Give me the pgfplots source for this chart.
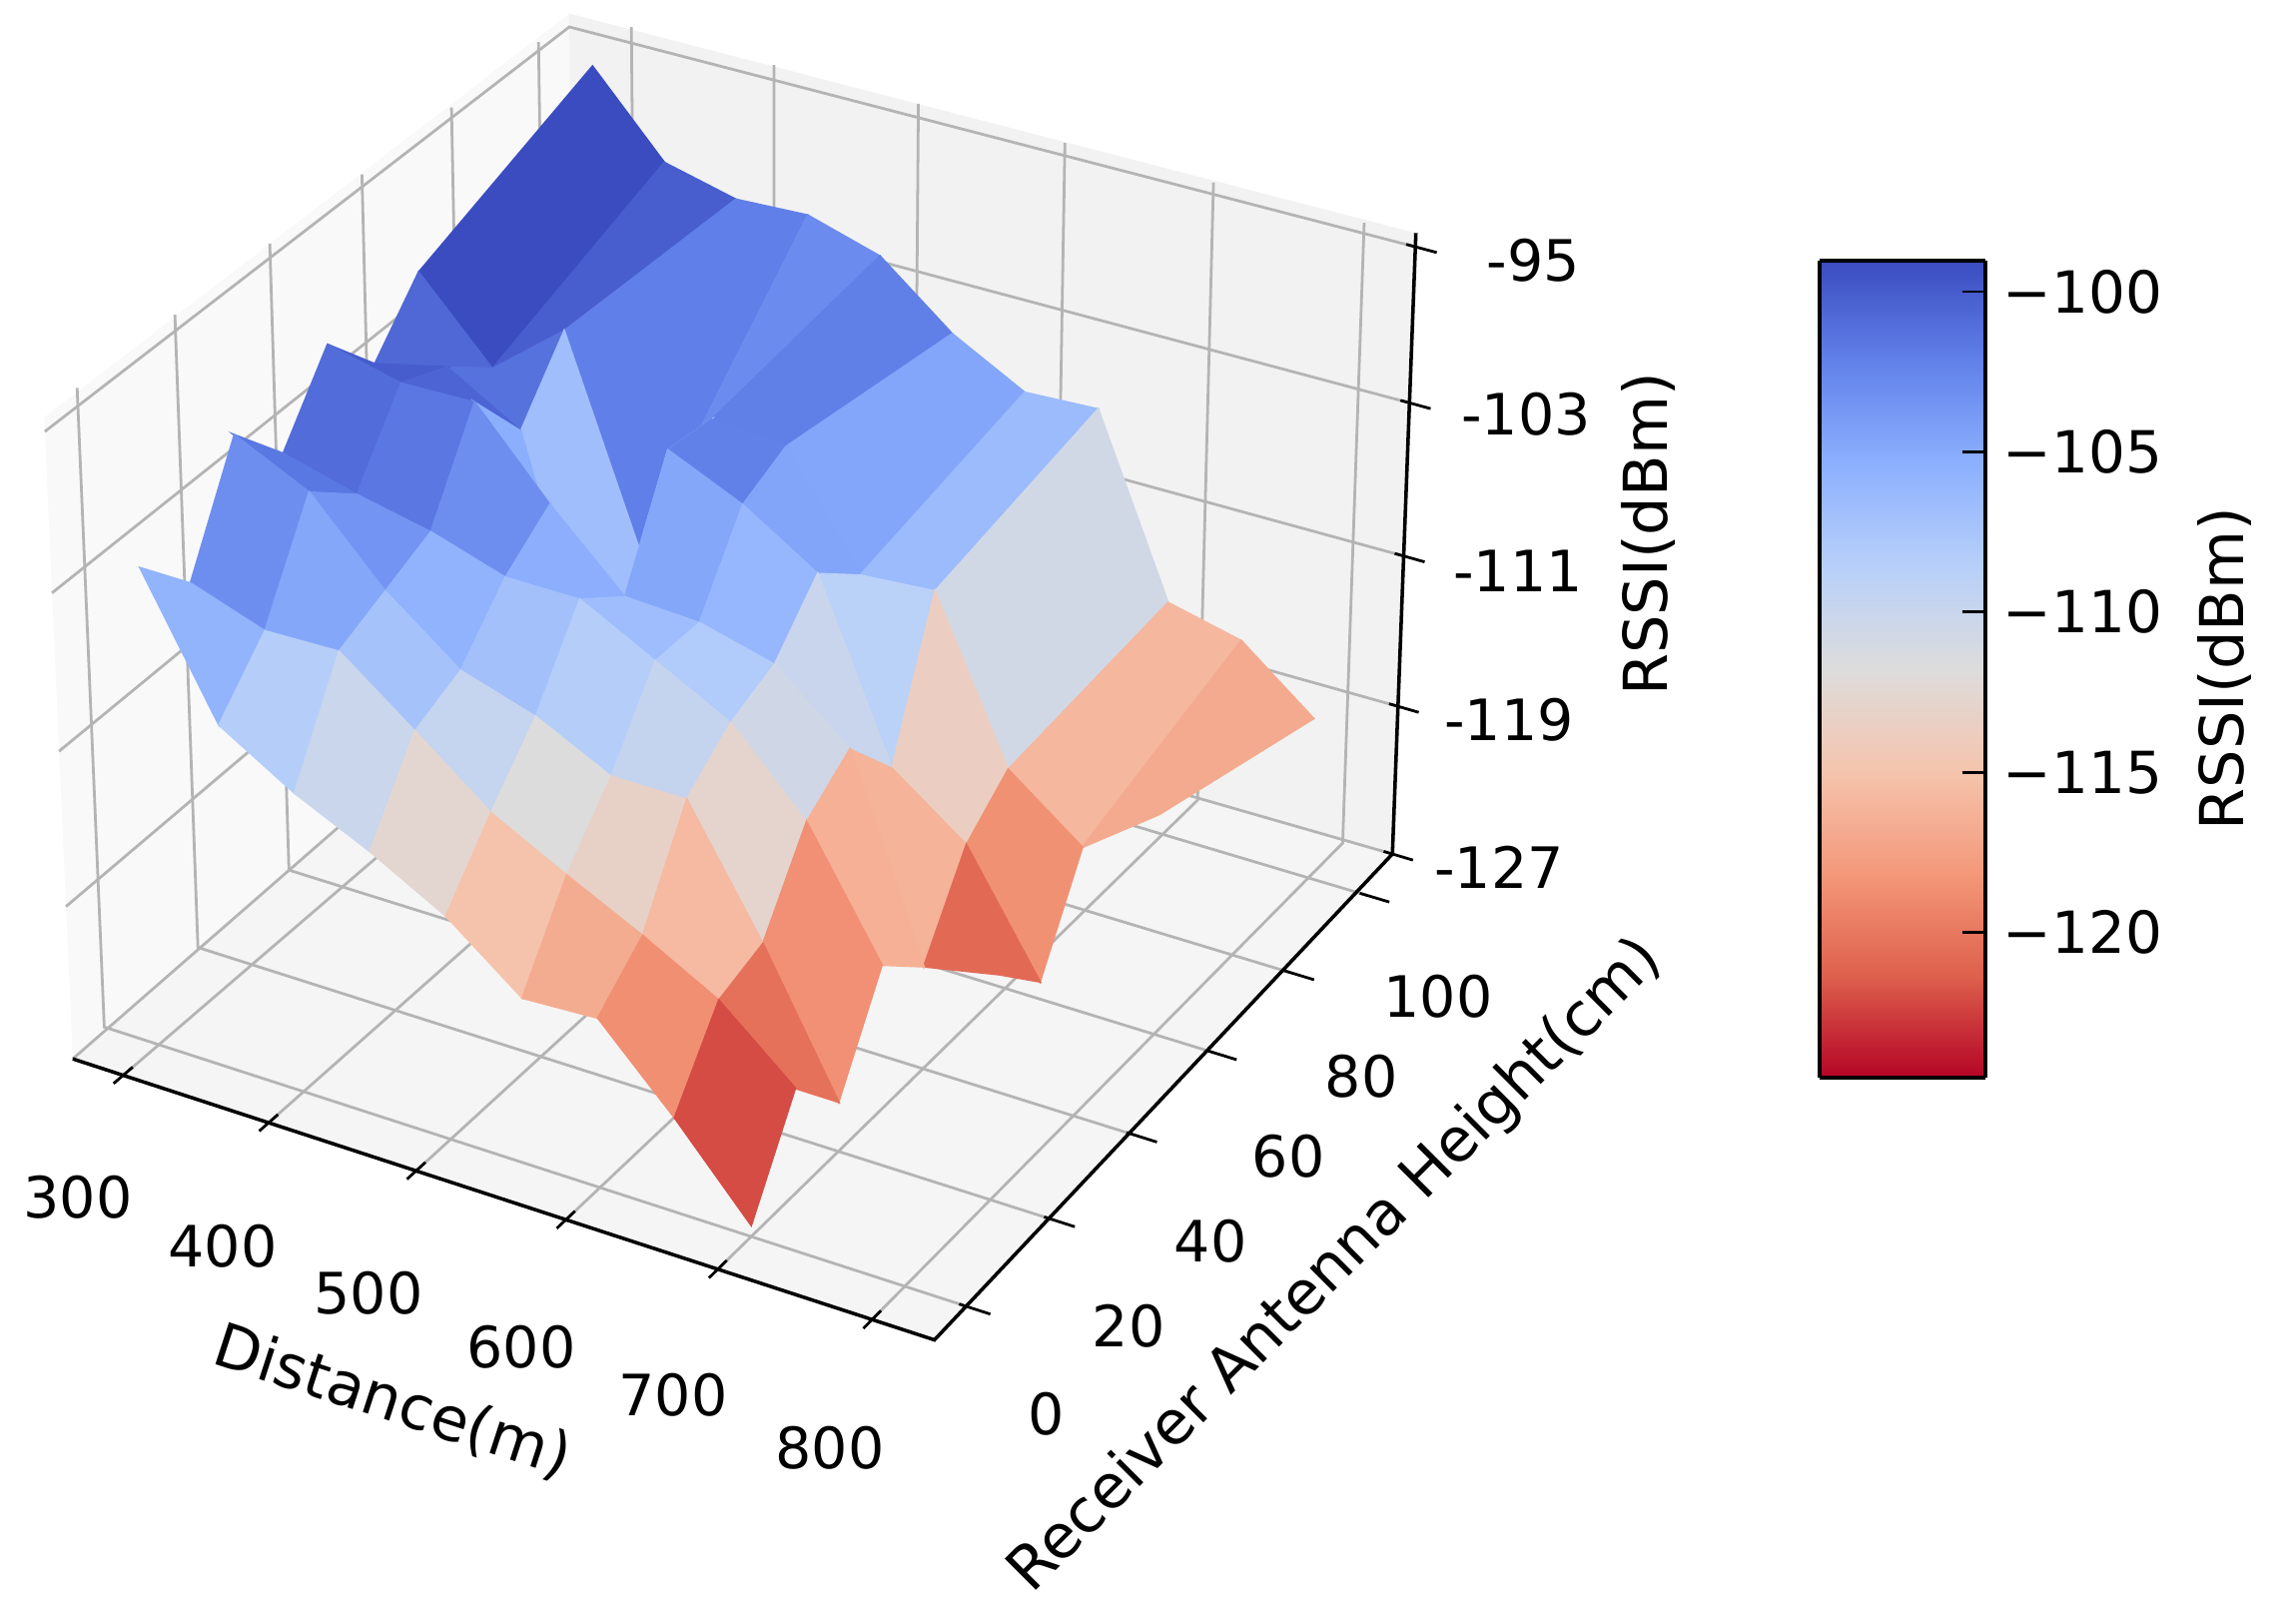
\documentclass[border=0pt]{standalone}
\usepackage{fontspec}
\setmainfont{DejaVu Sans}
\usepackage{pgfplots}
\usepackage{pgfplotstable}
\pgfplotsset{compat=1.18}

\definecolor{paneL}{HTML}{F9F9F9}
\definecolor{paneR}{HTML}{F2F2F2}
\definecolor{paneF}{HTML}{F5F5F5}
\definecolor{gridc}{HTML}{B4B4B4}

\pgfplotsset{
  % reversed coolwarm between -124.53 and -99.03, flat outside; positions are rssi+127
  colormap={cwr}{rgb255(0cm)=(180,4,38) rgb255(2.47cm)=(180,4,38) rgb255(5.6575cm)=(222,96,77)
    rgb255(8.845cm)=(244,152,122) rgb255(12.0325cm)=(245,196,173) rgb255(15.22cm)=(221,220,220)
    rgb255(18.4075cm)=(184,208,249) rgb255(21.595cm)=(141,176,254) rgb255(24.7825cm)=(98,130,234)
    rgb255(27.97cm)=(59,76,192) rgb255(33cm)=(59,76,192)},
  /pgfplots/table/proj/.style={
    row sep=\\,
    x expr={PX(\thisrow{d},\thisrow{h},\thisrow{r})},
    y expr={PY(\thisrow{d},\thisrow{h},\thisrow{r})},
    z expr=0},
}

% RSSI surface: distance (m), receiver height (cm), rssi (dBm); far row first
\pgfplotstableread[row sep=\\]{
d h r\\
300 100 -94.8\\ 350 100 -98.8\\ 400 100 -99.7\\ 450 100 -99.5\\ 500 100 -100.6\\ 550 100 -103.6\\ 600 100 -105.6\\ 650 100 -105.4\\ 700 100 -114.5\\ 750 100 -115.4\\ 800 100 -118.4\\
300 60 -98.5\\ 350 60 -102.4\\ 400 60 -99.4\\ 450 60 -109.6\\ 500 60 -101.8\\ 550 60 -102.1\\ 600 60 -107.6\\ 650 60 -107.3\\ 700 60 -115.4\\ 750 60 -118.3\\ 800 60 -115.4\\
300 50 -101.4\\ 350 50 -100.5\\ 400 50 -102.7\\ 450 50 -115.5\\ 500 50 -101.5\\ 550 50 -103.2\\ 600 50 -105.6\\ 650 50 -114.5\\ 700 50 -117.3\\ 750 50 -123.3\\ 800 50 nan\\
300 40 -98.6\\ 350 40 -99.5\\ 400 40 -99.4\\ 450 40 -103.5\\ 500 40 -107.1\\ 550 40 -107.3\\ 600 40 -108.3\\ 650 40 -111.5\\ 700 40 -121.6\\ 750 40 -120.8\\ 800 40 nan\\
300 30 -102.3\\ 350 30 -103.3\\ 400 30 -104.1\\ 450 30 -105.3\\ 500 30 -105.3\\ 550 30 -107.3\\ 600 30 -109.3\\ 650 30 -113.2\\ 700 30 -119.4\\ 750 30 nan\\ 800 30 nan\\
300 20 -99.5\\ 350 20 -101.3\\ 400 20 -105.2\\ 450 20 -108.1\\ 500 20 -109.3\\ 550 20 -111.2\\ 600 20 -111.2\\ 650 20 -117.4\\ 700 20 -124.4\\ 750 20 nan\\ 800 20 nan\\
300 10 -105.1\\ 350 10 -106.4\\ 400 10 -106.3\\ 450 10 -109.2\\ 500 10 -112.2\\ 550 10 -114.2\\ 600 10 -116.1\\ 650 10 -118.2\\ 700 10 -121.5\\ 750 10 nan\\ 800 10 nan\\
300 0 -102.4\\ 350 0 -109.2\\ 400 0 -111.5\\ 450 0 -113.3\\ 500 0 -115.4\\ 550 0 -118.4\\ 600 0 -118.2\\ 650 0 -122.1\\ 700 0 -126.4\\ 750 0 nan\\ 800 0 nan\\
}\rssidata

\begin{document}
\begin{tikzpicture}[every node/.style={font=\fontsize{11.3}{13}\selectfont}]
\useasboundingbox (0,0) rectangle (16cm,11.274cm);
\begin{axis}[
  at={(0,0)}, anchor=south west,
  scale only axis, width=16cm, height=11.274cm,
  hide axis, clip=false, view={0}{90},
  xmin=0, xmax=2299, ymin=0, ymax=1620, zmin=-1, zmax=1,
  declare function={
    U(\x)=(\x-300)/500; V(\y)=\y/100; W(\z)=(\z+127)/32;
    PD(\x,\y,\z)=1-0.03578*U(\x)+0.07247*V(\y)-0.0378*W(\z);
    PX(\x,\y,\z)=(159+714.6*U(\x)+484.5*V(\y)-29.6*W(\z))/PD(\x,\y,\z);
    PY(\x,\y,\z)=1620-(1046+195.9*U(\x)-330.7*V(\y)-642.6*W(\z))/PD(\x,\y,\z);
  },
  colormap name=cwr,
  point meta min=-127, point meta max=-94,
]
% panes
\addplot3[draw=none, fill=paneL] table[proj] {d h r\\ 265 -7.5 -127\\ 258 108.5 -127\\ 258 108.5 -94.3\\ 265 -7.5 -94.3\\} --cycle;
\addplot3[draw=none, fill=paneR] table[proj] {d h r\\ 258 108.5 -127\\ 832 110 -127\\ 832 110 -94.3\\ 258 108.5 -94.3\\} --cycle;
\addplot3[draw=none, fill=paneF] table[proj] {d h r\\ 265 -7.5 -127\\ 840 -7.5 -127\\ 832 110 -127\\ 258 108.5 -127\\} --cycle;
% grid
\pgfplotsinvokeforeach{300,400,500,600,700,800}{
  \addplot3[gridc, line width=0.55pt] table[proj] {d h r\\ #1 -7.5 -127\\ #1 109.2 -127\\ #1 109.2 -94.3\\};
}
\pgfplotsinvokeforeach{0,20,40,60,80,100}{
  \addplot3[gridc, line width=0.55pt] table[proj] {d h r\\ 840 #1 -127\\ 262 #1 -127\\ 262 #1 -94.3\\};
}
\pgfplotsinvokeforeach{-127,-119,-111,-103,-95}{
  \addplot3[gridc, line width=0.55pt] table[proj] {d h r\\ 265 -7.5 #1\\ 258 108.5 #1\\ 832 110 #1\\};
}
% axis lines and ticks
\addplot3[black, line width=0.7pt] table[proj] {d h r\\ 265 -7.5 -127\\ 840 -7.5 -127\\ 832 110 -127\\ 832 110 -94.3\\};
\pgfplotsinvokeforeach{300,400,500,600,700,800}{
  \addplot3[black, line width=0.55pt] table[proj] {d h r\\ #1 -9.5 -127\\ #1 -5.5 -127\\};
}
\pgfplotsinvokeforeach{0,20,40,60,80,100}{
  \addplot3[black, line width=0.55pt] table[proj] {d h r\\ 835 #1 -127\\ 855 #1 -127\\};
}
\pgfplotsinvokeforeach{-127,-119,-111,-103,-95}{
  \addplot3[black, line width=0.55pt] table[proj] {d h r\\ 826 110 #1\\ 846 110 #1\\};
}
% surface
\addplot3[surf, shader=flat mean, unbounded coords=jump, z buffer=none,
  mesh/rows=8, mesh/cols=11, mesh/ordering=x varies, point meta=\thisrow{r}]
  table[proj] {\rssidata};
% tick labels and axis labels
\node at (axis cs:78,421,0) {300};
\node at (axis cs:223,372,0) {400};
\node at (axis cs:369,325,0) {500};
\node at (axis cs:522,271,0) {600};
\node at (axis cs:674,223,0) {700};
\node at (axis cs:831,170,0) {800};
\node at (axis cs:1048,204,0) {0};
\node at (axis cs:1130,292,0) {20};
\node at (axis cs:1212,377,0) {40};
\node at (axis cs:1290,462,0) {60};
\node at (axis cs:1363,542,0) {80};
\node at (axis cs:1440,622,0) {100};
\node at (axis cs:1535,1359,0) {-95};
\node at (axis cs:1528,1205,0) {-103};
\node at (axis cs:1520,1048,0) {-111};
\node at (axis cs:1511,899,0) {-119};
\node at (axis cs:1501,752,0) {-127};
\node[rotate=-18, font=\fontsize{12}{14}\selectfont] at (axis cs:393,216,0) {Distance(m)};
\node[rotate=45, font=\fontsize{12}{14}\selectfont] at (axis cs:1338,352,0) {Receiver Antenna Height(cm)};
\node[rotate=90, font=\fontsize{12}{14}\selectfont] at (axis cs:1650,1085,0) {RSSI(dBm)};
\end{axis}
% colour bar
\begin{axis}[
  at={(12.68cm,3.765cm)}, anchor=south west,
  scale only axis, width=1.155cm, height=5.693cm,
  view={0}{90}, axis on top,
  xmin=0, xmax=1, ymin=-124.53, ymax=-99.03, zmin=-1, zmax=1,
  colormap name=cwr,
  point meta min=-127, point meta max=-94,
  axis line style={black, line width=0.7pt},
  xtick=\empty, ztick=\empty,
  ytick={-120,-115,-110,-105,-100},
  yticklabels={−120,−115,−110,−105,−100},
  ytick pos=right, yticklabel pos=right,
  ytick style={black, line width=0.55pt},
  major tick length=4.5pt,
  yticklabel style={font=\fontsize{11.5}{13}\selectfont},
  ylabel={RSSI(dBm)}, ylabel near ticks,
  ylabel style={font=\fontsize{12}{14}\selectfont},
]
\addplot3[surf, shader=interp, mesh/rows=2, point meta=y] coordinates {
  (0,-124.53,0) (1,-124.53,0) (0,-99.03,0) (1,-99.03,0)
};
\end{axis}
\end{tikzpicture}
\end{document}
